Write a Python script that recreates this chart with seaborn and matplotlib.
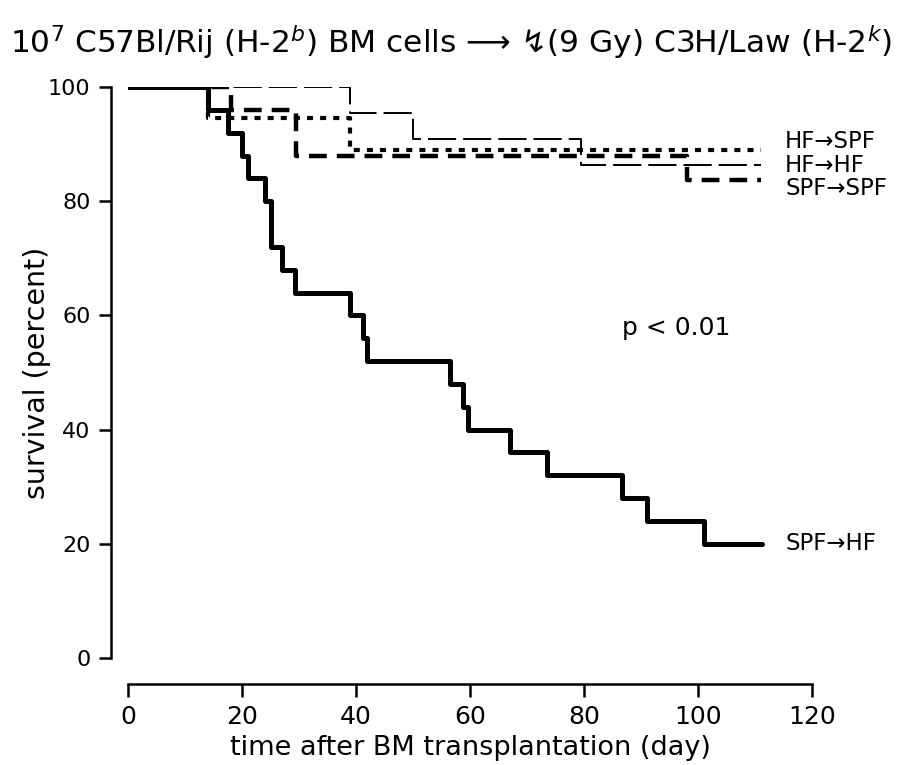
#!/usr/bin/env python3

import seaborn as sns
import matplotlib.pyplot as plt
import pandas

# Survival curves (day, percent surviving)
groups = ["SPF→HF", "HF→HF", "HF→SPF", "SPF→SPF"]

spf_hf_days = [0, 14, 17.5, 20, 21, 24, 25, 27, 29.3, 39, 41.2, 42, 56.5, 58.8, 59.6, 67, 73.5, 86.7, 91, 101, 111.3]
spf_hf_surv = [100, 96, 92, 88, 84, 80, 72, 68, 64, 60, 56, 52, 48, 44, 40, 36, 32, 28, 24, 20, 20]

hf_hf_days = [0, 39, 50, 79.5, 111]
hf_hf_surv = [100, 95.5, 90.9, 86.4, 86.4]

hf_spf_days = [0, 14, 39, 111]
hf_spf_surv = [100, 94.6, 89.0, 89.0]

spf_spf_days = [0, 18, 29.5, 98, 111]
spf_spf_surv = [100, 96, 88, 83.8, 83.8]

x_ticks = [0, 20, 40, 60, 80, 100, 120]
y_ticks = [0, 20, 40, 60, 80, 100]


def build_frame():
    """
    Long format table for seaborn
    """
    rows = []
    series = [
        ("SPF→HF", spf_hf_days, spf_hf_surv),
        ("HF→HF", hf_hf_days, hf_hf_surv),
        ("HF→SPF", hf_spf_days, hf_spf_surv),
        ("SPF→SPF", spf_spf_days, spf_spf_surv),
    ]
    for name, days, surv in series:
        for d, s in zip(days, surv):
            rows.append({"group": name, "day": d, "survival": s})
    return pandas.DataFrame(rows)


def main():
    sns.set_theme(style="ticks")
    plt.rcParams["font.family"] = ["DejaVu Sans"]
    plt.rcParams["text.color"] = "black"
    plt.rcParams["axes.labelcolor"] = "black"
    plt.rcParams["xtick.color"] = "black"
    plt.rcParams["ytick.color"] = "black"

    df = build_frame()

    fig = plt.figure(figsize=(9.01, 7.65), dpi=100)
    ax = fig.add_axes([128 / 901, 1 - 658 / 765, 684 / 901, 571 / 765])

    dashes = {
        "SPF→HF": "",
        "HF→HF": (14.5, 3.6),
        "HF→SPF": (1.45, 1.7),
        "SPF→SPF": (4.0, 2.25),
    }
    sizes = {"SPF→HF": 3.6, "HF→HF": 1.4, "HF→SPF": 3.0, "SPF→SPF": 3.2}
    palette = {g: "black" for g in groups}

    sns.lineplot(
        data=df, x="day", y="survival", hue="group", style="group", size="group",
        hue_order=groups, style_order=groups, size_order=groups,
        palette=palette, dashes=dashes, sizes=sizes,
        drawstyle="steps-post", legend=False, ax=ax, estimator=None, sort=False,
    )

    ax.set_xlim(0, 120)
    ax.set_ylim(0, 100)
    ax.set_xticks(x_ticks)
    ax.set_yticks(y_ticks)
    sns.despine(ax=ax, offset={"left": 12, "bottom": 19})
    for side in ["left", "bottom"]:
        ax.spines[side].set_linewidth(1.8)
        ax.spines[side].set_color("black")

    ax.tick_params(axis="both", length=9, width=1.8, color="black", labelcolor="black", pad=6)
    ax.tick_params(axis="x", labelsize=18)
    ax.tick_params(axis="y", labelsize=16)
    for lab in ax.get_xticklabels():
        lab.set_family("Liberation Sans Narrow")

    ax.set_xlabel("time after BM transplantation (day)", fontsize=19.5)
    ax.set_ylabel("survival (percent)", fontsize=20.5)
    ax.xaxis.set_label_coords(0.5, (658 - 748) / 571)
    ax.xaxis.label.set_va("center")
    ax.yaxis.set_label_coords((37 - 128) / 684, 0.5)
    ax.yaxis.label.set_va("center")

    # curve labels on the right
    label_pos = {"HF→SPF": 90.4, "HF→HF": 86.3, "SPF→SPF": 82.3, "SPF→HF": 20.1}
    for name, yv in label_pos.items():
        ax.text(115.3, yv, name, fontsize=16.5, ha="left", va="center", clip_on=False)

    ax.text(86.7, 57.8, "p < 0.01", fontsize=18, ha="left", va="center")

    fig.text(
        10 / 901, 1 - 42 / 765,
        "10$^{7}$ C57Bl/Rij (H-2$^{b}$) BM cells ⟶ ↯(9 Gy) C3H/Law (H-2$^{k}$)",
        fontsize=22.5, ha="left", va="center",
    )

    fig.savefig("out.png", dpi=100)
    plt.close(fig)


if __name__ == "__main__":
    main()
